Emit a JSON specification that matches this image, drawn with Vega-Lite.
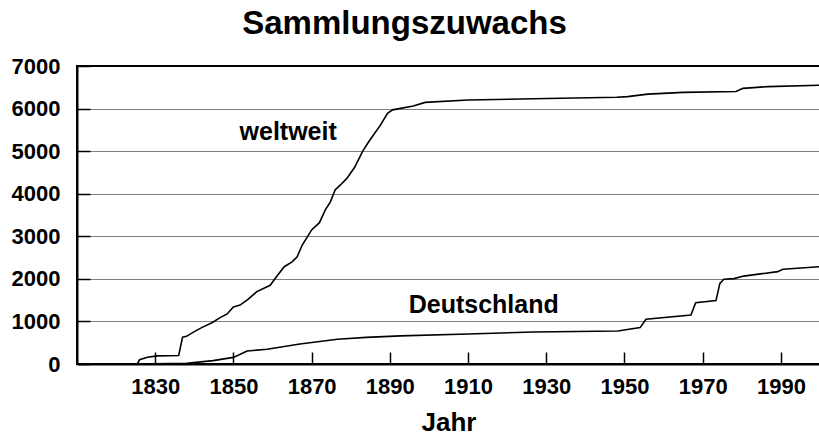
{
  "$schema": "https://vega.github.io/schema/vega-lite/v6.json",
  "width": 743,
  "height": 298,
  "autosize": {"type": "none"},
  "padding": {"left": 77, "top": 66, "right": 0, "bottom": 76},
  "background": "white",
  "title": {
    "text": "Sammlungszuwachs",
    "font": "Liberation Sans",
    "fontSize": 33,
    "fontWeight": "bold",
    "color": "black",
    "anchor": "middle",
    "frame": "bounds",
    "offset": 14,
    "dx": -11
  },
  "config": {
    "view": {"stroke": "black", "strokeWidth": 2},
    "font": "Liberation Sans",
    "axis": {
      "labelFont": "Liberation Sans",
      "labelFontWeight": "bold",
      "labelColor": "black",
      "labelFontSize": 22,
      "titleFont": "Liberation Sans",
      "titleFontWeight": "bold",
      "titleColor": "black",
      "domainColor": "black",
      "domainWidth": 2,
      "tickColor": "black",
      "tickWidth": 1.5
    }
  },
  "datasets": {
    "lines": [
      {"series": "weltweit", "year": 1818, "value": 0},
      {"series": "weltweit", "year": 1825.4, "value": 0},
      {"series": "weltweit", "year": 1826, "value": 100},
      {"series": "weltweit", "year": 1828, "value": 160},
      {"series": "weltweit", "year": 1830.5, "value": 190},
      {"series": "weltweit", "year": 1836, "value": 200},
      {"series": "weltweit", "year": 1837, "value": 630},
      {"series": "weltweit", "year": 1838, "value": 650},
      {"series": "weltweit", "year": 1840, "value": 760},
      {"series": "weltweit", "year": 1842, "value": 860},
      {"series": "weltweit", "year": 1844.5, "value": 970},
      {"series": "weltweit", "year": 1846.6, "value": 1090},
      {"series": "weltweit", "year": 1848.4, "value": 1175},
      {"series": "weltweit", "year": 1850, "value": 1340},
      {"series": "weltweit", "year": 1851.7, "value": 1385},
      {"series": "weltweit", "year": 1853.8, "value": 1525},
      {"series": "weltweit", "year": 1856, "value": 1700},
      {"series": "weltweit", "year": 1859.4, "value": 1850},
      {"series": "weltweit", "year": 1861, "value": 2050},
      {"series": "weltweit", "year": 1863, "value": 2285},
      {"series": "weltweit", "year": 1865, "value": 2400},
      {"series": "weltweit", "year": 1866.3, "value": 2520},
      {"series": "weltweit", "year": 1867.6, "value": 2795},
      {"series": "weltweit", "year": 1870, "value": 3150},
      {"series": "weltweit", "year": 1872, "value": 3320},
      {"series": "weltweit", "year": 1873.5, "value": 3620},
      {"series": "weltweit", "year": 1874.8, "value": 3810},
      {"series": "weltweit", "year": 1876, "value": 4090},
      {"series": "weltweit", "year": 1877.3, "value": 4200},
      {"series": "weltweit", "year": 1879, "value": 4360},
      {"series": "weltweit", "year": 1881, "value": 4620},
      {"series": "weltweit", "year": 1883, "value": 4990},
      {"series": "weltweit", "year": 1884.3, "value": 5180},
      {"series": "weltweit", "year": 1885.8, "value": 5380},
      {"series": "weltweit", "year": 1887.6, "value": 5610},
      {"series": "weltweit", "year": 1889.4, "value": 5890},
      {"series": "weltweit", "year": 1890.7, "value": 5970},
      {"series": "weltweit", "year": 1892.7, "value": 6005},
      {"series": "weltweit", "year": 1896, "value": 6060},
      {"series": "weltweit", "year": 1899, "value": 6145},
      {"series": "weltweit", "year": 1910, "value": 6200},
      {"series": "weltweit", "year": 1926.8, "value": 6230},
      {"series": "weltweit", "year": 1948, "value": 6265},
      {"series": "weltweit", "year": 1950.8, "value": 6280},
      {"series": "weltweit", "year": 1956, "value": 6340},
      {"series": "weltweit", "year": 1965, "value": 6380},
      {"series": "weltweit", "year": 1978.5, "value": 6400},
      {"series": "weltweit", "year": 1980.3, "value": 6475},
      {"series": "weltweit", "year": 1986.7, "value": 6515},
      {"series": "weltweit", "year": 2000, "value": 6550},
      {"series": "Deutschland", "year": 1825, "value": 0},
      {"series": "Deutschland", "year": 1838, "value": 15},
      {"series": "Deutschland", "year": 1844.8, "value": 80},
      {"series": "Deutschland", "year": 1850, "value": 155},
      {"series": "Deutschland", "year": 1853.5, "value": 305},
      {"series": "Deutschland", "year": 1858.6, "value": 345},
      {"series": "Deutschland", "year": 1867, "value": 470},
      {"series": "Deutschland", "year": 1876.6, "value": 580},
      {"series": "Deutschland", "year": 1884, "value": 625},
      {"series": "Deutschland", "year": 1892.7, "value": 660},
      {"series": "Deutschland", "year": 1910, "value": 705},
      {"series": "Deutschland", "year": 1926.8, "value": 750},
      {"series": "Deutschland", "year": 1948.3, "value": 775},
      {"series": "Deutschland", "year": 1954, "value": 855},
      {"series": "Deutschland", "year": 1955.5, "value": 1050},
      {"series": "Deutschland", "year": 1967, "value": 1150},
      {"series": "Deutschland", "year": 1968.2, "value": 1440},
      {"series": "Deutschland", "year": 1973.4, "value": 1490},
      {"series": "Deutschland", "year": 1974.4, "value": 1895},
      {"series": "Deutschland", "year": 1975.4, "value": 1990},
      {"series": "Deutschland", "year": 1978, "value": 2005},
      {"series": "Deutschland", "year": 1980.5, "value": 2065},
      {"series": "Deutschland", "year": 1989.2, "value": 2170},
      {"series": "Deutschland", "year": 1990.5, "value": 2225},
      {"series": "Deutschland", "year": 2000, "value": 2285}
    ],
    "labels": [
      {"label": "weltweit", "year": 1864, "value": 5450},
      {"label": "Deutschland", "year": 1914, "value": 1385}
    ]
  },
  "layer": [
    {
      "data": {"name": "lines"},
      "mark": {"type": "line", "color": "black", "strokeWidth": 1.6, "clip": true},
      "encoding": {
        "x": {
          "field": "year",
          "type": "quantitative",
          "scale": {"domain": [1810, 2000], "nice": false, "zero": false},
          "axis": {
            "values": [1830, 1850, 1870, 1890, 1910, 1930, 1950, 1970, 1990],
            "format": "d",
            "grid": false,
            "tickSize": -12,
            "labelPadding": 24,
            "title": "Jahr",
            "titleFontSize": 26,
            "titlePadding": 12
          }
        },
        "y": {
          "field": "value",
          "type": "quantitative",
          "scale": {"domain": [0, 7000], "nice": false},
          "axis": {
            "values": [0, 1000, 2000, 3000, 4000, 5000, 6000, 7000],
            "format": "d",
            "grid": true,
            "gridColor": "black",
            "gridDash": [1, 1],
            "gridWidth": 1,
            "tickSize": -13,
            "labelPadding": 30,
            "title": null
          }
        },
        "detail": {"field": "series"}
      }
    },
    {
      "data": {"name": "labels"},
      "mark": {"type": "text", "font": "Liberation Sans", "fontSize": 25, "fontWeight": "bold", "color": "black", "align": "center", "baseline": "middle"},
      "encoding": {
        "x": {"field": "year", "type": "quantitative"},
        "y": {"field": "value", "type": "quantitative"},
        "text": {"field": "label"}
      }
    }
  ]
}
